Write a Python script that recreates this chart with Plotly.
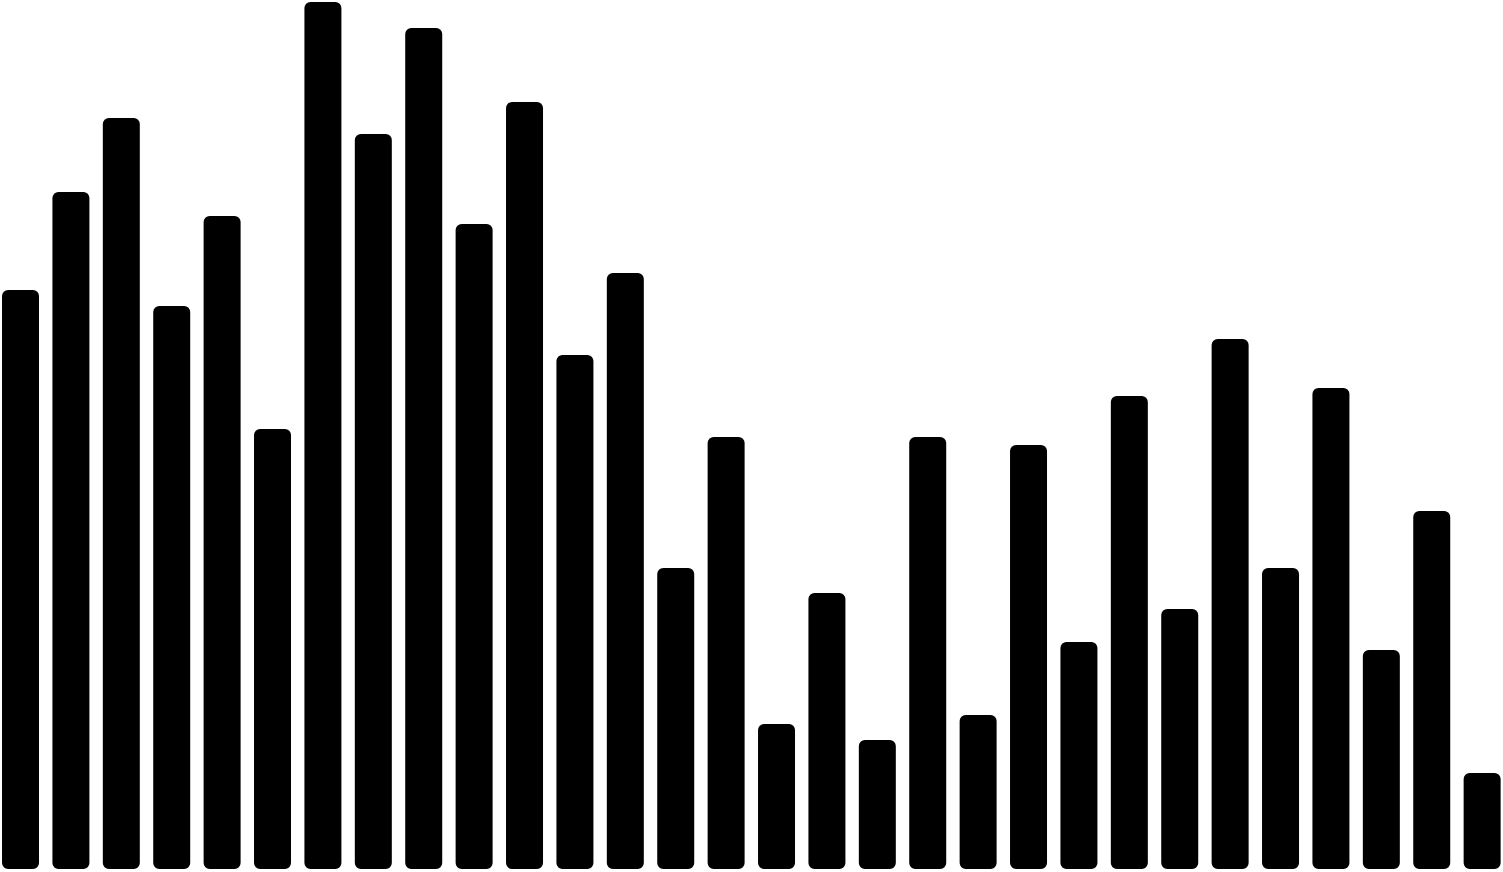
import plotly.graph_objects as go

# bar heights (pixel-ish units, baseline at 0)
idx = list(range(30))
heights = [571, 669, 743, 555, 645, 432, 859, 727, 833, 637,
           759, 506, 588, 293, 424, 137, 268, 121, 424, 146,
           416, 219, 465, 252, 522, 293, 473, 211, 350, 88]
# short stub under the baseline so the bottom ends get rounded too
stub = [-8] * 30

fig = go.Figure([
    go.Bar(x=idx, y=heights, marker_color="black", marker_line_width=0),
    go.Bar(x=idx, y=stub, marker_color="black", marker_line_width=0),
])

fig.update_layout(
    width=1503, height=872,
    margin=dict(l=0, r=0, t=0, b=0),
    paper_bgcolor="white", plot_bgcolor="white",
    barmode="relative", bargap=0.266, barcornerradius=6,
    showlegend=False,
    xaxis=dict(range=[-0.407, 29.414], visible=False),
    yaxis=dict(range=[-11, 861], visible=False),
)

# drop the browser's default body margin so the chart sits flush
fig.write_html("out.html", config={"displayModeBar": False},
               post_script="document.body.style.margin='0';document.body.style.overflow='hidden';")
